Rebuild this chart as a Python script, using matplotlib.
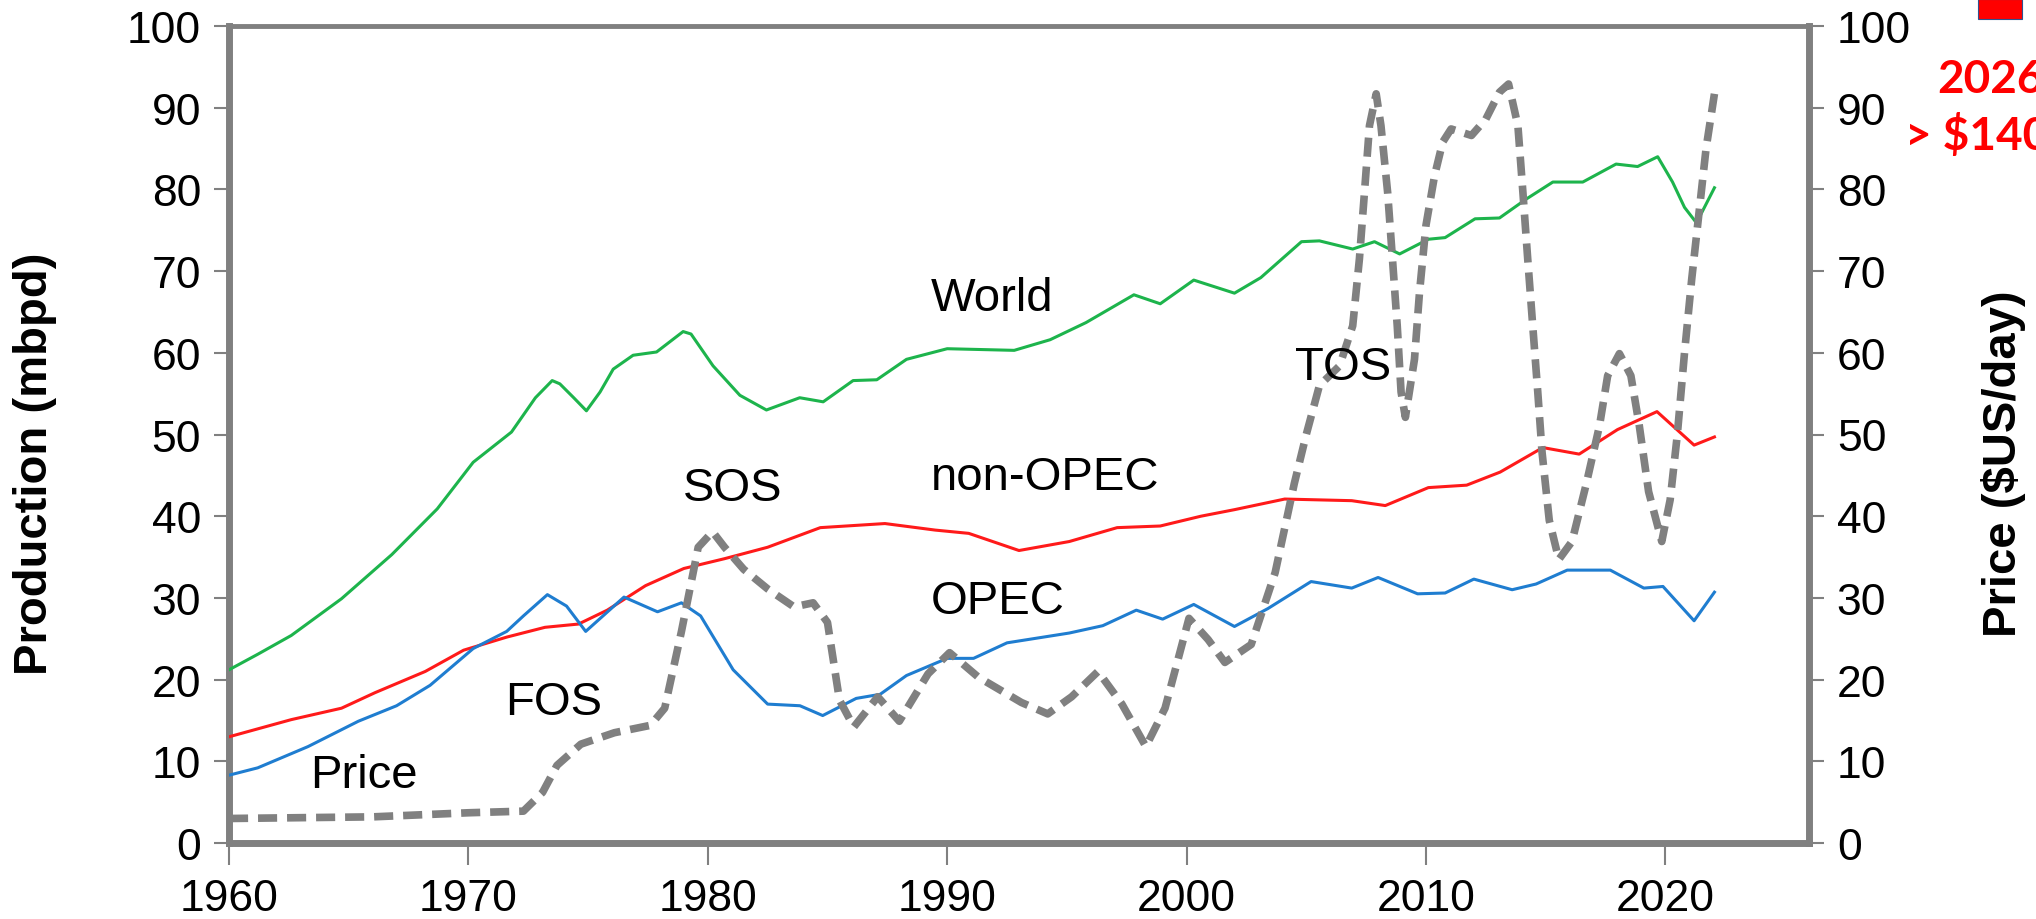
import matplotlib
matplotlib.use('Agg')
import matplotlib.pyplot as plt
import matplotlib.patches as mpatches

plt.rcParams.update({'font.family': 'Liberation Sans'})

# World production (mbpd)
world_year = [1960, 1961.2, 1962.6, 1964.7, 1966.8, 1968.7, 1970.2, 1971.8, 1972.8, 1973.5,
              1973.82, 1974.4, 1974.93, 1975.5, 1976.05, 1976.88, 1977.86, 1978.97, 1979.3, 1980.22,
              1981.34, 1982.45, 1983.84, 1984.82, 1986.07, 1987.06, 1988.3, 1990.0, 1992.8, 1994.3,
              1995.8, 1997.8, 1998.9, 2000.3, 2002.0, 2003.1, 2004.8, 2005.55, 2006.94, 2007.85,
              2008.9, 2010.1, 2010.8, 2012.05, 2013.07, 2014.18, 2015.3, 2016.55, 2017.94, 2018.84,
              2019.68, 2020.3, 2020.8, 2021.3, 2022.05]
world = [21.2, 23.1, 25.4, 29.9, 35.3, 40.9, 46.6, 50.3, 54.5, 56.6,
         56.2, 54.5, 52.9, 55.2, 58.0, 59.7, 60.1, 62.6, 62.3, 58.4,
         54.8, 53.0, 54.5, 54.0, 56.6, 56.7, 59.2, 60.5, 60.3, 61.6,
         63.7, 67.1, 66.0, 68.9, 67.3, 69.2, 73.6, 73.7, 72.7, 73.6,
         72.1, 73.9, 74.1, 76.4, 76.5, 78.8, 80.9, 80.9, 83.1, 82.8,
         84.0, 80.9, 77.8, 75.9, 80.2]

# non-OPEC production (mbpd)
nonopec_year = [1960, 1962.6, 1964.7, 1966.1, 1968.2, 1969.8, 1971.6, 1973.2, 1974.6, 1975.8,
                1977.4, 1979.0, 1980.7, 1982.5, 1984.7, 1987.4, 1989.5, 1990.9, 1993.0, 1995.1,
                1997.1, 1998.9, 2000.6, 2002.0, 2004.1, 2006.9, 2008.3, 2010.1, 2011.7, 2013.1,
                2014.88, 2016.4, 2018.0, 2019.65, 2021.2, 2022.05]
nonopec = [13.0, 15.1, 16.5, 18.4, 21.0, 23.6, 25.2, 26.4, 26.8, 28.5,
           31.5, 33.6, 34.8, 36.2, 38.6, 39.1, 38.3, 37.9, 35.8, 36.9,
           38.6, 38.8, 40.0, 40.8, 42.1, 41.9, 41.3, 43.5, 43.8, 45.4,
           48.4, 47.6, 50.6, 52.8, 48.7, 49.7]

# OPEC production (mbpd)
opec_year = [1960, 1961.2, 1963.3, 1965.4, 1967.0, 1968.4, 1970.2, 1971.6, 1972.3, 1973.3,
             1974.1, 1974.9, 1975.7, 1976.5, 1977.9, 1978.9, 1979.7, 1981.06, 1982.5, 1983.85,
             1984.8, 1986.2, 1987.2, 1988.3, 1990.0, 1991.1, 1992.5, 1995.1, 1996.5, 1997.9,
             1999.0, 2000.3, 2002.0, 2003.4, 2005.2, 2006.9, 2008.0, 2009.65, 2010.8, 2012.0,
             2013.6, 2014.6, 2015.9, 2017.7, 2019.1, 2019.9, 2021.2, 2022.05]
opec = [8.3, 9.2, 11.8, 14.9, 16.8, 19.3, 23.8, 25.9, 27.8, 30.4,
        29.0, 25.9, 28.0, 30.1, 28.3, 29.4, 27.8, 21.2, 17.0, 16.8,
        15.6, 17.7, 18.2, 20.5, 22.6, 22.6, 24.5, 25.7, 26.6, 28.5,
        27.4, 29.2, 26.5, 28.7, 32.0, 31.2, 32.5, 30.5, 30.6, 32.3,
        31.0, 31.7, 33.4, 33.4, 31.2, 31.4, 27.2, 30.7]

# Oil price ($US)
price_year = [1960, 1966, 1970, 1972.3, 1973.1, 1973.7, 1974.7, 1976.1, 1977.6, 1978.2,
              1978.9, 1979.6, 1980.2, 1980.7, 1981.5, 1982.5, 1983.6, 1984.4, 1985.0, 1985.5,
              1986.1, 1987.1, 1988.0, 1989.2, 1990.1, 1991.3, 1993.1, 1994.2, 1995.2, 1996.3,
              1997.3, 1998.3, 1999.1, 2000.1, 2000.9, 2001.6, 2002.7, 2003.7, 2004.5, 2005.0,
              2005.55, 2006.39, 2006.94, 2007.22, 2007.43, 2007.64, 2007.92, 2008.12, 2008.4, 2008.6,
              2008.8, 2008.96, 2009.14, 2009.52, 2009.73, 2010.0, 2010.36, 2010.7, 2011.05, 2011.9,
              2012.5, 2013.07, 2013.45, 2013.84, 2014.05, 2014.25, 2014.46, 2014.67, 2014.85, 2015.15,
              2015.55, 2016.1, 2016.7, 2017.25, 2017.59, 2018.08, 2018.56, 2018.91, 2019.3, 2019.85,
              2020.2, 2020.5, 2020.8, 2021.1, 2021.4, 2021.7, 2022.05]
price = [3.0, 3.2, 3.7, 3.9, 6.2, 9.5, 12.1, 13.5, 14.4, 16.5,
         25.9, 36.2, 38.1, 36.2, 33.5, 31.1, 28.9, 29.4, 27.0, 17.5,
         14.2, 17.9, 14.9, 20.7, 23.3, 20.3, 17.2, 15.8, 17.9, 21.0,
         17.0, 11.8, 16.5, 27.5, 24.9, 22.1, 24.3, 33.1, 44.0, 50.0,
         56.0, 58.4, 63.3, 71.5, 79.6, 87.8, 91.7, 87.8, 79.6, 71.5,
         63.3, 55.2, 52.1, 59.2, 67.4, 75.6, 81.7, 85.8, 87.4, 86.6,
         88.6, 91.9, 92.9, 87.8, 79.6, 71.5, 63.3, 55.2, 47.8, 39.5,
         34.7, 36.9, 44.0, 51.1, 57.2, 59.9, 57.2, 51.1, 43.0, 36.9,
         42.0, 50.0, 60.0, 69.0, 77.0, 85.0, 91.7]

xticks = [1960, 1970, 1980, 1990, 2000, 2010, 2020]
yticks = list(range(0, 101, 10))

grey = '#808080'
font_sz = 32

fig = plt.figure(figsize=(20.36, 9.2), dpi=100)
ax = fig.add_axes([229/2036, 76/920, (1809-229)/2036, (844-27)/920])

ax.plot(world_year, world, color='#1db44c', lw=2.2, zorder=3)
ax.plot(nonopec_year, nonopec, color='#ff1a1a', lw=2.2, zorder=3)
ax.plot(opec_year, opec, color='#1f7dd0', lw=2.2, zorder=3)

ax.set_xlim(1960, 2026)
ax.set_ylim(0, 100)
ax.set_xticks(xticks)
ax.set_yticks(yticks)

for side in ['left', 'bottom', 'right']:
    ax.spines[side].set_linewidth(5)
    ax.spines[side].set_color(grey)
ax.spines['top'].set_linewidth(3.5)
ax.spines['top'].set_color(grey)

ax.tick_params(axis='y', direction='out', length=11, width=1.5, color=grey,
               labelsize=font_sz, pad=9)
ax.tick_params(axis='x', direction='out', length=16, width=1.5, color=grey,
               labelsize=font_sz, pad=9)

# secondary axis for price
ax2 = ax.twinx()
ax2.plot(price_year, price, color=grey, lw=5.5, linestyle=(0, (2.5, 1.3)),
         dash_capstyle='butt', solid_joinstyle='round', zorder=4)
ax2.set_ylim(0, 100)
ax2.set_yticks(yticks)
for side in ['left', 'bottom', 'right', 'top']:
    ax2.spines[side].set_visible(False)
ax2.tick_params(axis='y', direction='out', length=11, width=1.5, color=grey,
                labelsize=font_sz, pad=9)

# curve labels
labels = [('World', 1989.3, 65.2), ('non-OPEC', 1989.3, 43.3), ('OPEC', 1989.3, 28.2),
          ('SOS', 1978.96, 42.0), ('FOS', 1971.55, 15.8), ('Price', 1963.4, 6.9),
          ('TOS', 2004.54, 56.8)]
for txt, xx, yy in labels:
    ax2.text(xx, yy, txt, fontsize=34, ha='left', va='baseline', color='black', zorder=5)

fig.text(35/2036, 0.4957, 'Production (mbpd)', rotation=90, ha='center', va='center',
         fontsize=34, fontweight='bold')
fig.text(2004/2036, 0.4957, 'Price ($US/day)', rotation=90, ha='center', va='center',
         fontsize=34, fontweight='bold')

# red note in the corner
fig.patches.append(mpatches.Rectangle((1978/2036, 1 - 20/920), 44/2036, 20/920,
                                      transform=fig.transFigure, facecolor='#ff0000',
                                      edgecolor='#2f528f', lw=0.8))
fig.text(1937/2036, 1 - 93/920, '2026', fontsize=33, fontweight='bold', color='#ff0000',
         ha='left', va='baseline', family='Lato')
fig.text(1905/2036, 1 - 150/920, '> $140', fontsize=33, fontweight='bold', color='#ff0000',
         ha='left', va='baseline', family='Lato')

fig.savefig('out.png', dpi=100)
